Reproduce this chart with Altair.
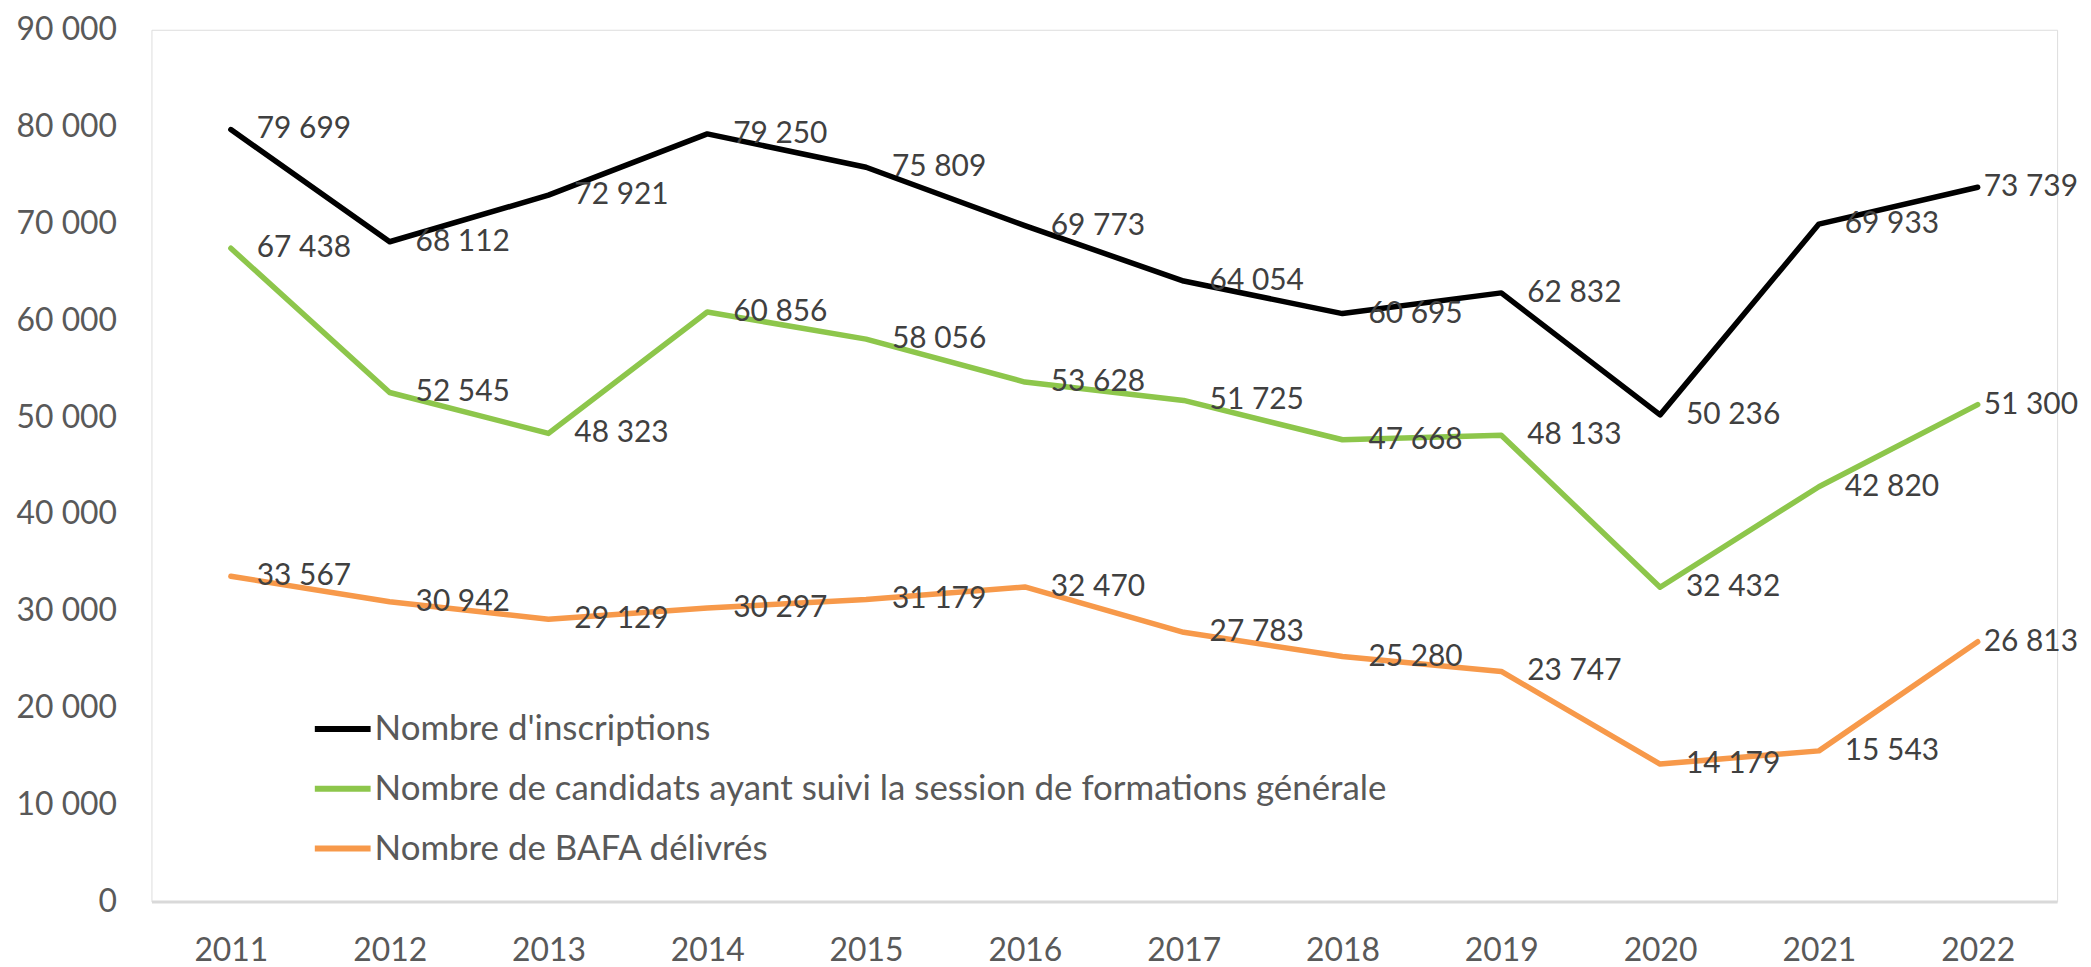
import altair as alt
import pandas as pd

years = ["2011", "2012", "2013", "2014", "2015", "2016", "2017", "2018", "2019", "2020", "2021", "2022"]
inscriptions = [79699, 68112, 72921, 79250, 75809, 69773, 64054, 60695, 62832, 50236, 69933, 73739]
candidats = [67438, 52545, 48323, 60856, 58056, 53628, 51725, 47668, 48133, 32432, 42820, 51300]
bafa = [33567, 30942, 29129, 30297, 31179, 32470, 27783, 25280, 23747, 14179, 15543, 26813]

series_names = [
    "Nombre d'inscriptions",
    "Nombre de candidats ayant suivi la session de formations générale",
    "Nombre de BAFA délivrés",
]
series_colors = ["#000000", "#8DC64B", "#F7994A"]

rows = []
for name, vals in zip(series_names, [inscriptions, candidats, bafa]):
    for y, v in zip(years, vals):
        rows.append({"year": y, "value": v, "series": name,
                     "label": f"{v:,}".replace(",", " ")})
df = pd.DataFrame(rows)

FONT = "Lato"

x_enc = alt.X("year:O", title=None,
              scale=alt.Scale(type="point", padding=0.5),
              axis=alt.Axis(labelAngle=0, labelFontSize=32, labelColor="#595959",
                            labelFont=FONT, ticks=False, labelPadding=49,
                            labelBaseline="middle",
                            domainColor="#D9D9D9", domainWidth=3, grid=False))
y_enc = alt.Y("value:Q", title=None,
              scale=alt.Scale(domain=[0, 90000], nice=False),
              axis=alt.Axis(values=list(range(0, 90001, 10000)),
                            labelExpr="replace(format(datum.value, ','), regexp(',', 'g'), ' ')",
                            labelFontSize=32, labelColor="#595959", labelFont=FONT,
                            ticks=False, domain=False, grid=False, labelPadding=35))

base = alt.Chart(df)

lines = base.mark_line(strokeWidth=5.5, strokeJoin="round", strokeCap="round").encode(
    x=x_enc,
    y=y_enc,
    color=alt.Color("series:N",
                    scale=alt.Scale(domain=series_names, range=series_colors),
                    sort=series_names,
                    legend=alt.Legend(orient="none", legendX=161, legendY=671,
                                      title=None, symbolType="stroke",
                                      symbolSize=3136, symbolStrokeWidth=6,
                                      labelFontSize=35, labelColor="#595959",
                                      labelFont=FONT, labelOffset=1,
                                      rowPadding=11, padding=0,
                                      labelLimit=2000)),
)

labels_main = base.transform_filter("datum.year != '2022'").mark_text(
    align="left", baseline="middle", dx=26, fontSize=30, color="#404040", font=FONT
).encode(x="year:O", y="value:Q", text="label:N")

labels_last = base.transform_filter("datum.year == '2022'").mark_text(
    align="left", baseline="middle", dx=6, fontSize=30, color="#404040", font=FONT
).encode(x="year:O", y="value:Q", text="label:N")

chart = alt.layer(lines, labels_main, labels_last).properties(
    width=1913, height=875,
    autosize=alt.AutoSizeParams(type="none"),
    padding={"left": 144, "top": 20, "right": 26, "bottom": 64},
).configure_view(stroke=None).configure(background="white")

chart.save("out.html", embed_options={"renderer": "svg", "actions": False})
